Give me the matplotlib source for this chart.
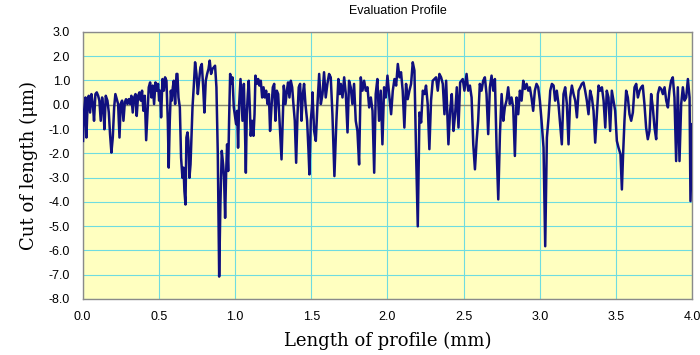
import matplotlib
matplotlib.use("Agg")
import matplotlib.pyplot as plt

# profile readings: position (mm) and height (um)
pos_mm = [
    0.003, 0.010, 0.019, 0.025, 0.032, 0.040, 0.049, 0.058, 0.067, 0.075,
    0.084, 0.093, 0.102, 0.110, 0.119, 0.128, 0.137, 0.143, 0.152, 0.163,
    0.172, 0.180, 0.189, 0.198, 0.207, 0.215, 0.224, 0.233, 0.242, 0.250,
    0.259, 0.268, 0.277, 0.285, 0.294, 0.303, 0.312, 0.320, 0.329, 0.338,
    0.347, 0.355, 0.364, 0.373, 0.382, 0.390, 0.399, 0.408, 0.417, 0.425,
    0.434, 0.443, 0.452, 0.460, 0.469, 0.478, 0.487, 0.495,
    0.502, 0.508, 0.515, 0.524, 0.533, 0.541, 0.550, 0.559, 0.565, 0.572,
    0.579, 0.585, 0.592, 0.598, 0.607, 0.616, 0.622, 0.629, 0.638, 0.646,
    0.655, 0.662, 0.668, 0.675, 0.681, 0.688, 0.694, 0.701, 0.708, 0.714,
    0.721, 0.729, 0.738, 0.747, 0.756, 0.764, 0.773, 0.782, 0.791, 0.799,
    0.808, 0.817, 0.826, 0.834, 0.843, 0.852, 0.861, 0.869, 0.878, 0.887,
    0.896, 0.904, 0.913, 0.922, 0.928, 0.935, 0.942, 0.948, 0.955, 0.961,
    0.968, 0.974, 0.983, 0.992,
    1.007, 1.014, 1.020, 1.027, 1.036, 1.042, 1.049, 1.058, 1.064, 1.071,
    1.077, 1.084, 1.090, 1.097, 1.103, 1.112, 1.121, 1.128, 1.134, 1.143,
    1.152, 1.160, 1.169, 1.178, 1.187, 1.195, 1.204, 1.213, 1.222, 1.230,
    1.239, 1.248, 1.257, 1.265, 1.274, 1.283, 1.292, 1.305, 1.313, 1.320,
    1.331, 1.340, 1.348, 1.357, 1.366, 1.375, 1.383, 1.392, 1.401, 1.410,
    1.418, 1.427, 1.436, 1.445, 1.453, 1.462, 1.473, 1.482, 1.488, 1.497,
    1.506,
    1.508, 1.519, 1.530, 1.541, 1.552, 1.563, 1.574, 1.584, 1.595, 1.606,
    1.617, 1.628, 1.639, 1.652, 1.665, 1.678, 1.687, 1.694, 1.705, 1.716,
    1.727, 1.738, 1.748, 1.759, 1.770, 1.781, 1.792, 1.803, 1.814, 1.825,
    1.836, 1.847, 1.858, 1.869, 1.880, 1.891, 1.902, 1.913, 1.923, 1.934,
    1.945, 1.956, 1.967, 1.978, 1.989, 2.000,
    2.013, 2.024, 2.035, 2.046, 2.057, 2.068, 2.079, 2.089, 2.100, 2.111,
    2.122, 2.133, 2.144, 2.155, 2.166, 2.177, 2.188, 2.199, 2.210, 2.221,
    2.232, 2.243, 2.253, 2.264, 2.275, 2.286, 2.297, 2.308, 2.319, 2.330,
    2.341, 2.352, 2.363, 2.374, 2.385, 2.400, 2.411, 2.422, 2.433, 2.444,
    2.455, 2.466, 2.477, 2.494, 2.505,
    2.519, 2.530, 2.541, 2.552, 2.563, 2.574, 2.585, 2.595, 2.606, 2.617,
    2.628, 2.639, 2.650, 2.661, 2.672, 2.683, 2.694, 2.705, 2.716, 2.727,
    2.738, 2.749, 2.760, 2.770, 2.781, 2.792, 2.803, 2.814, 2.825, 2.836,
    2.847, 2.858, 2.869, 2.880, 2.891, 2.902, 2.913, 2.924, 2.934, 2.945,
    2.956, 2.967, 2.978, 2.989, 3.000, 3.011,
    3.024, 3.035, 3.046, 3.057, 3.068, 3.079, 3.090, 3.100, 3.111, 3.122,
    3.133, 3.144, 3.155, 3.166, 3.177, 3.188, 3.199, 3.210, 3.221, 3.232,
    3.243, 3.254, 3.265, 3.275, 3.286, 3.297, 3.308, 3.319, 3.330, 3.341,
    3.352, 3.363, 3.374, 3.385, 3.396, 3.407, 3.418, 3.429, 3.439, 3.450,
    3.461, 3.472, 3.483, 3.494, 3.505, 3.516,
    3.529, 3.538, 3.546, 3.555, 3.566, 3.577, 3.588, 3.599, 3.610, 3.621,
    3.632, 3.643, 3.654, 3.665, 3.675, 3.686, 3.697, 3.708, 3.719, 3.730,
    3.741, 3.752, 3.763, 3.774, 3.785, 3.796, 3.807, 3.818, 3.829, 3.840,
    3.850, 3.861, 3.872, 3.883, 3.894, 3.905, 3.916, 3.927, 3.938, 3.949,
    3.960, 3.971, 3.982, 3.988, 4.000,
]

height_um = [
    -1.49, -0.25, 0.30, -1.35, -0.11, 0.37, -0.32, 0.44, 0.03, -0.66,
    0.44, 0.51, 0.37, 0.17, -0.66, 0.30, -0.18, -1.01, 0.37, 0.17,
    -0.32, -1.21, -1.97, -1.35, -0.11, 0.44, 0.23, 0.03, -1.35, 0.03,
    0.17, -0.66, 0.10, 0.23, 0.03, 0.23, 0.03, 0.37, -0.32, 0.30,
    0.44, -0.46, 0.37, 0.51, 0.17, 0.58, -0.25, 0.37, -1.46, -0.39,
    0.72, 0.92, 0.30, 0.79, 0.03, 0.92, 0.58, 0.86,
    0.17, 0.58, -0.52, 1.06, 0.58, 1.13, 0.99, -0.66, -2.59, -0.66,
    0.58, 0.17, 0.72, 0.99, 0.03, 1.27, 1.27, 0.30, -0.11, -2.18,
    -3.01, -2.59, -3.56, -4.11, -1.35, -1.14, -1.49, -3.01, -2.46, -1.35,
    -0.11, 0.72, 1.75, 1.27, 0.44, 0.99, 1.54, 1.68, 0.72, -0.32,
    0.99, 1.27, 1.48, 1.82, 1.27, 1.48, 1.54, 1.61, 0.72, -2.04,
    -7.08, -4.11, -1.90, -2.46, -3.01, -4.66, -2.73, -1.63, -2.73, -0.66,
    1.27, 0.86, 1.13, -0.11,
    -0.80, -0.25, -1.77, 0.03, 1.06, 0.30, -0.66, 0.86, -0.66, -2.80,
    -0.39, 0.44, 0.99, -0.11, -1.28, -0.66, -1.28, -0.39, 1.20, 0.86,
    1.06, 0.79, 0.99, 0.30, 0.72, 0.30, 0.58, 0.03, 0.44, -1.08,
    -0.11, 0.72, 0.86, -0.66, 0.58, 0.44, -0.66, -2.25, -0.66, 0.79,
    0.03, 0.58, 0.92, 0.30, 0.99, 0.72, 0.03, -0.66, -2.39, -0.39,
    0.72, 0.86, -0.66, 0.44, 0.86, 0.03, -0.66, -1.90, -2.87, -0.66,
    0.03,
    0.51, -1.08, -1.49, 0.03, 1.27, 0.03, 0.44, 1.34, 0.30, 0.86,
    1.27, 1.13, -0.39, -2.94, -0.66, 1.06, 0.44, 0.86, 0.30, 1.13,
    0.44, -1.14, 0.99, 0.72, 0.03, 0.86, -0.66, -1.08, -2.46, 1.13,
    0.58, 0.99, 0.58, 0.72, -0.11, 0.30, -0.25, -2.80, 0.44, 1.06,
    -0.66, 0.58, -1.63, 0.72, 0.30, 1.20,
    0.30, -0.39, 0.58, 1.06, 0.79, 1.68, 1.13, 1.34, 0.58, -0.94,
    0.86, 0.23, 0.58, 0.86, 1.75, 1.41, -2.04, -5.01, -0.32, -0.73,
    0.58, 0.44, 0.79, 0.03, -1.83, 0.17, 0.99, 1.06, 1.13, 0.58,
    1.27, 1.13, 0.86, -0.39, 0.99, -1.63, -0.25, 0.44, -1.08, -0.39,
    0.72, -0.94, 0.92, 1.06, 0.58,
    1.27, 0.58, 0.79, 0.30, -1.63, -2.66, -1.49, -0.66, 0.86, 0.58,
    0.99, 1.13, 0.44, -1.21, 0.72, 1.20, 0.58, 1.06, -1.77, -3.90,
    -1.21, 0.44, -0.66, -0.11, 0.17, 0.72, 0.03, 0.30, -0.11, -2.11,
    0.30, -0.39, 0.58, 0.17, 0.99, 0.65, 0.86, 0.58, 0.72, 0.30,
    -0.25, 0.58, 0.86, 0.72, 0.17, -0.66,
    -1.77, -5.83, -1.35, -0.52, 0.58, 0.86, 0.79, 0.17, 0.58, 0.03,
    -0.80, -1.63, 0.44, 0.72, 0.03, -1.63, 0.30, 0.79, 0.44, 0.17,
    -0.52, 0.58, 0.72, 0.86, 0.92, 0.58, 0.17, -0.39, 0.58, 0.30,
    -0.25, -1.56, -0.39, 0.79, 0.58, 0.72, 0.17, -0.94, 0.58, 0.30,
    -1.08, 0.58, 0.17, -0.25, -1.49, -1.77,
    -2.04, -3.49, -2.04, -0.66, 0.58, 0.30, -0.39, -0.66, -0.32, 0.72,
    0.86, 0.30, 0.58, 0.72, 0.79, 0.03, -0.94, -1.42, -1.08, 0.44,
    -0.11, -0.94, -1.42, 0.44, 0.72, 0.65, 0.44, 0.72, 0.17, -0.11,
    0.58, 0.99, 1.13, 0.30, -2.32, 0.72, -2.32, 0.03, 0.72, 0.17,
    0.30, 1.06, 0.30, -3.97, -0.80,
]

x_ticks = [0.0, 0.5, 1.0, 1.5, 2.0, 2.5, 3.0, 3.5, 4.0]
y_ticks = [3.0, 2.0, 1.0, 0.0, -1.0, -2.0, -3.0, -4.0, -5.0, -6.0, -7.0, -8.0]

fig = plt.figure(figsize=(7, 3.55), dpi=100)
ax = fig.add_axes([0.118, 0.158, 0.871, 0.752])
ax.set_facecolor("#FFFFC0")

ax.set_xlim(0, 4.0)
ax.set_ylim(-8.0, 3.0)
ax.set_xticks(x_ticks)
ax.set_yticks(y_ticks)
ax.set_xticklabels([f"{t:.1f}" for t in x_ticks], family="Liberation Sans", fontsize=9)
ax.set_yticklabels([f"{t:.1f}" for t in y_ticks], family="Liberation Sans", fontsize=9)
ax.tick_params(length=0, pad=9)

ax.grid(True, color="#6FDCE0", linewidth=0.8)
ax.set_axisbelow(True)
ax.axhline(0, color="#8A8A70", linewidth=1.0, zorder=1.5)

for s in ax.spines.values():
    s.set_color("#8A8A8A")
    s.set_linewidth(1.0)

ax.plot(pos_mm, height_um, color="#10107F", linewidth=1.8, zorder=3)

ax.set_xlabel("Length of profile (mm)", family="DejaVu Serif", fontsize=13, labelpad=6)
ax.set_ylabel("Cut of length (\u03bcm)", family="DejaVu Serif", fontsize=13, labelpad=8)
fig.text(0.569, 0.97, "Evaluation Profile", family="Liberation Sans", fontsize=9,
         ha="center", va="center")

fig.savefig("out.png", dpi=100)
